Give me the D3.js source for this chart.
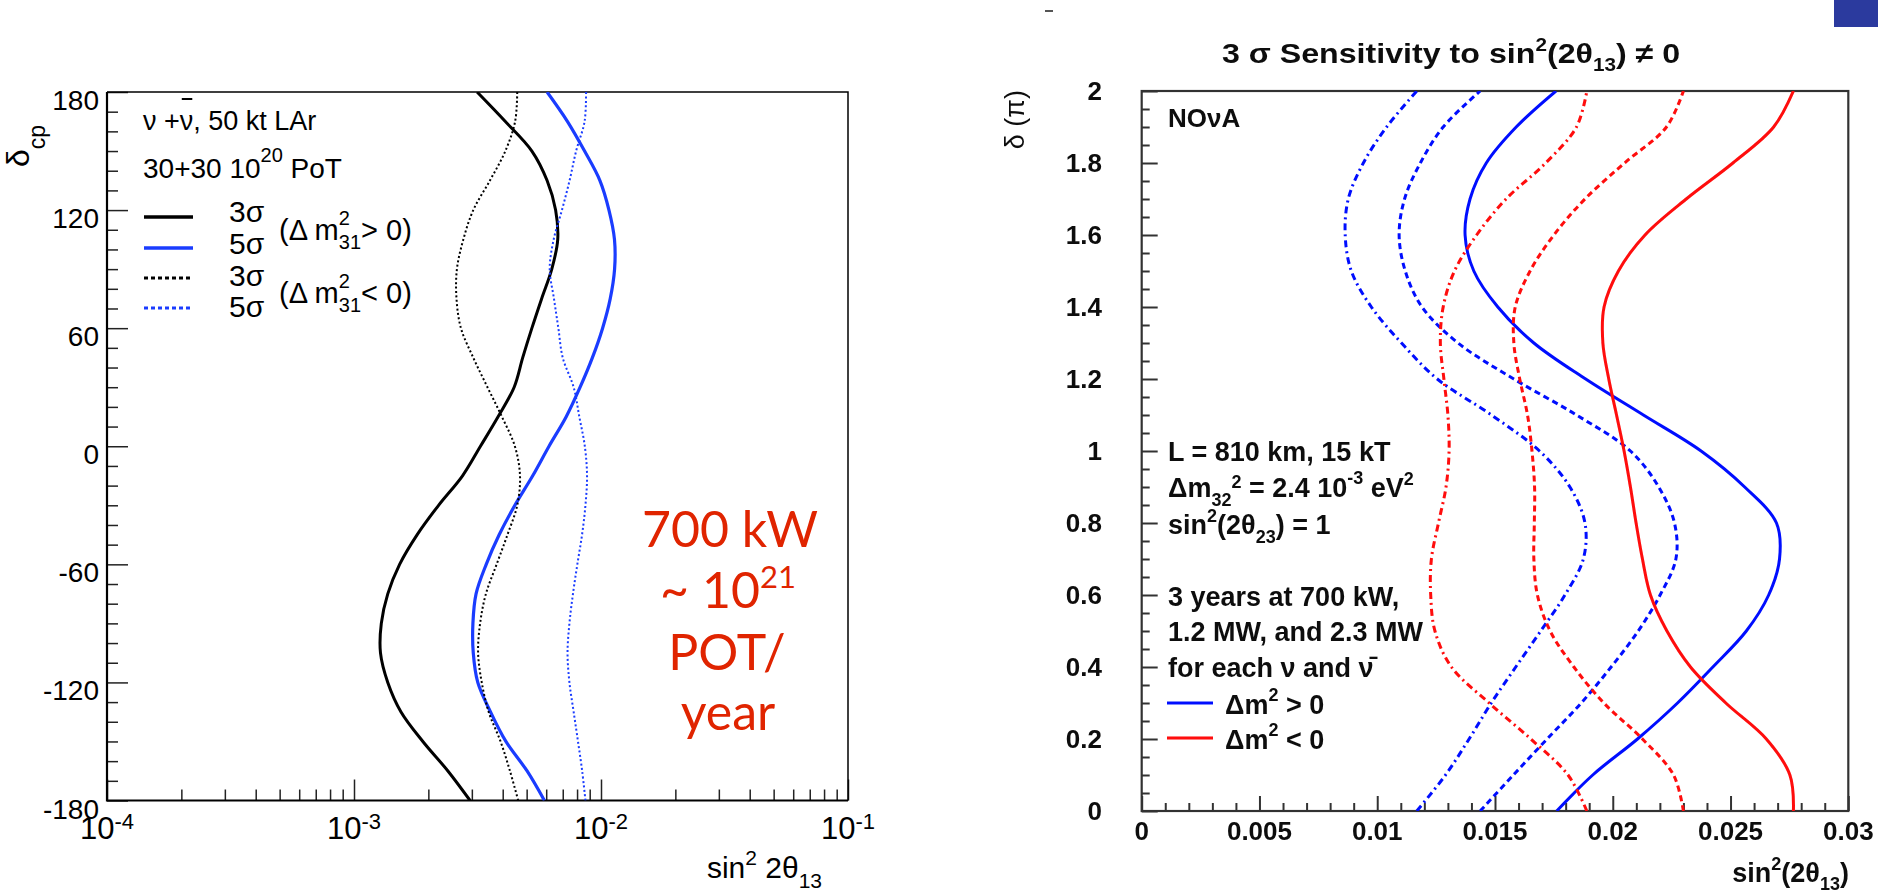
<!DOCTYPE html>
<html>
<head>
<meta charset="utf-8">
<script src="https://cdn.jsdelivr.net/npm/d3@7"></script>
<style>
  html, body { margin: 0; padding: 0; background: #fff; }
  svg { display: block; }
</style>
</head>
<body>
<svg id="fig" width="1878" height="892"></svg>
<script>
// ---------- Left panel: LAr sensitivity vs delta_CP (degrees), log x ----------
const leftDelta = [-180,-165,-150,-135,-120,-105,-90,-75,-60,-45,-30,-15,0,15,30,45,60,75,90,105,120,135,150,165,180];
// sin^2 2theta13 in units of 1e-3
const lar3SigmaNH = [2.95,2.40,1.90,1.55,1.37,1.28,1.29,1.37,1.53,1.80,2.20,2.75,3.25,3.83,4.45,4.82,5.25,5.75,6.32,6.68,6.55,6.05,5.25,4.10,3.15];
const lar5SigmaNH = [5.90,5.02,4.12,3.57,3.17,3.04,3.03,3.12,3.43,3.87,4.48,5.29,6.16,7.23,8.23,9.23,10.15,10.9,11.35,11.34,10.77,9.90,8.58,7.32,6.05];
const lar3SigmaIH = [4.62,4.28,3.92,3.51,3.29,3.18,3.24,3.42,3.78,4.18,4.58,4.70,4.48,3.97,3.47,3.04,2.71,2.60,2.61,2.77,3.04,3.55,4.10,4.49,4.58];
const lar5SigmaIH = [8.65,8.39,8.07,7.75,7.45,7.32,7.45,7.70,8.02,8.38,8.65,8.78,8.60,8.17,7.75,7.00,6.72,6.45,6.20,6.43,6.95,7.46,7.93,8.58,8.70];
const leftYTicks = [-180,-120,-60,0,60,120,180];
const leftXDecades = [-4,-3,-2,-1];

// ---------- Right panel: NOvA 3 sigma sensitivity vs delta (units of pi) ----------
const rightDelta = [0,0.1,0.2,0.3,0.4,0.5,0.6,0.7,0.8,0.9,1.0,1.1,1.2,1.3,1.4,1.5,1.6,1.7,1.8,1.9,2.0];
const novaNH700  = [0.01762,0.01915,0.02105,0.02275,0.02425,0.02567,0.02662,0.02708,0.02695,0.02560,0.02375,0.02130,0.01885,0.01665,0.01512,0.01410,0.01373,0.01394,0.01463,0.01590,0.01759];
const novaNH1200 = [0.01437,0.01578,0.01721,0.01866,0.01993,0.02108,0.02201,0.02268,0.02262,0.02195,0.02075,0.01846,0.01580,0.01343,0.01190,0.01119,0.01093,0.01116,0.01183,0.01280,0.01437];
const novaNH2300 = [0.01168,0.01290,0.01390,0.01484,0.01588,0.01694,0.01797,0.01875,0.01882,0.01818,0.01689,0.01485,0.01255,0.01103,0.00975,0.00890,0.00864,0.00877,0.00941,0.01040,0.01168];
const novaIH700  = [0.02767,0.02752,0.02652,0.02480,0.02330,0.02230,0.02160,0.02126,0.02099,0.02075,0.02048,0.02016,0.01983,0.01958,0.01963,0.02024,0.02137,0.02312,0.02510,0.02683,0.02767];
const novaIH1200 = [0.02300,0.02258,0.02126,0.01962,0.01835,0.01734,0.01680,0.01665,0.01667,0.01668,0.01657,0.01638,0.01605,0.01580,0.01586,0.01649,0.01750,0.01882,0.02050,0.02228,0.02300];
const novaIH2300 = [0.01890,0.01810,0.01652,0.01475,0.01315,0.01245,0.01227,0.01230,0.01260,0.01292,0.01305,0.01300,0.01283,0.01268,0.01280,0.01328,0.01422,0.01547,0.01715,0.01846,0.01890];
const rightXTicks = [0,0.005,0.01,0.015,0.02,0.025,0.03];
const rightXLabels = ["0","0.005","0.01","0.015","0.02","0.025","0.03"];
const rightYTicks = [0,0.2,0.4,0.6,0.8,1,1.2,1.4,1.6,1.8,2];
const rightYLabels = ["0","0.2","0.4","0.6","0.8","1","1.2","1.4","1.6","1.8","2"];

const svg = d3.select("#fig");
svg.append("rect").attr("width", 1878).attr("height", 892).attr("fill", "#fff");
const defs = svg.append("defs");

// text built from pieces (super/subscripts via dy shifts)
function richText(parent, x, y, parts, attrs) {
  const t = parent.append("text").attr("x", x).attr("y", y);
  Object.entries(attrs || {}).forEach(([k, v]) => t.attr(k, v));
  parts.forEach(p => {
    const s = t.append("tspan").text(p.t);
    if (p.dy) s.attr("dy", p.dy);
    if (p.dx) s.attr("dx", p.dx);
    if (p.fs) s.attr("font-size", p.fs);
  });
  return t;
}

// ================= LEFT PANEL =================
const xL = d3.scaleLog().domain([1e-4, 1e-1]).range([107, 848]);
const yL = d3.scaleLinear().domain([-180, 180]).range([800.5, 92]);
const gL = svg.append("g").attr("font-family", "'Liberation Sans', Arial, sans-serif").attr("fill", "#000");

defs.append("clipPath").attr("id", "clipL").append("rect")
  .attr("x", 107).attr("y", 92).attr("width", 741).attr("height", 708.5);

// ticks (inward)
const yMinorL = d3.range(-180, 181, 10).filter(d => d % 60 !== 0);
const xMinorL = [];
[-4, -3, -2].forEach(e => { for (let k = 2; k <= 9; k++) xMinorL.push(k * Math.pow(10, e)); });

function tickAxis(g, axis) {
  g.call(axis).call(a => a.select(".domain").remove())
   .attr("color", "#222")
   .selectAll("line").attr("stroke-width", 1.5);
}
gL.append("g").attr("transform", "translate(107,0)")
  .call(g => tickAxis(g, d3.axisLeft(yL).tickValues(yMinorL).tickSize(-11).tickFormat("")));
gL.append("g").attr("transform", "translate(107,0)")
  .call(g => tickAxis(g, d3.axisLeft(yL).tickValues(leftYTicks).tickSize(-21).tickFormat("")));
gL.append("g").attr("transform", "translate(0,800.5)")
  .call(g => tickAxis(g, d3.axisBottom(xL).tickValues(xMinorL).tickSize(-11).tickFormat("")));
gL.append("g").attr("transform", "translate(0,800.5)")
  .call(g => tickAxis(g, d3.axisBottom(xL).tickValues(leftXDecades.map(e => Math.pow(10, e))).tickSize(-21).tickFormat("")));

// frame
gL.append("path").attr("fill", "none").attr("stroke", "#000").attr("stroke-width", 1.5)
  .attr("d", "M107,92H848V800.5");
gL.append("path").attr("fill", "none").attr("stroke", "#000").attr("stroke-width", 2.2)
  .attr("d", "M107,92V800.5H848");

// tick labels
gL.selectAll("text.ylab").data(leftYTicks).join("text").attr("class", "ylab")
  .attr("x", 99).attr("y", d => yL(d) + 18).attr("text-anchor", "end")
  .attr("font-size", 28).text(d => d);
leftXDecades.forEach(e => {
  richText(gL, xL(Math.pow(10, e)), 839,
    [{t: "10"}, {t: String(e), dy: -10, fs: 22}],
    {"text-anchor": "middle", "font-size": 31});
});

// axis titles
richText(gL, 822, 878, [{t: "sin"}, {t: "2", dy: -13, fs: 21}, {t: " 2θ", dy: 13, fs: 30}, {t: "13", dy: 10, fs: 21}],
  {"text-anchor": "end", "font-size": 30});
richText(gL, 0, 0, [{t: "δ", fs: 32}, {t: "cp", dy: 16, fs: 23}],
  {"transform": "translate(29,167) rotate(-90)"});

// curves
const lineL = d3.line().x(d => xL(d[1])).y(d => yL(d[0])).curve(d3.curveCatmullRom.alpha(0.5));
const pairsL = arr => leftDelta.map((d, i) => [d, arr[i] * 1e-3]);
const blueL = "#1a3cff";
const curvesL = [
  {data: lar3SigmaNH, color: "#000", w: 3, dash: null},
  {data: lar5SigmaNH, color: blueL, w: 3.2, dash: null},
  {data: lar3SigmaIH, color: "#000", w: 2, dash: "2,2.4"},
  {data: lar5SigmaIH, color: blueL, w: 2, dash: "2,2.4"}
];
const curveG = gL.append("g").attr("clip-path", "url(#clipL)");
curvesL.forEach(c => {
  curveG.append("path").attr("d", lineL(pairsL(c.data))).attr("fill", "none")
    .attr("stroke", c.color).attr("stroke-width", c.w)
    .attr("stroke-dasharray", c.dash);
});

// legend block
const lt1 = richText(gL, 143, 130, [{t: "ν +"}, {t: "ν"}, {t: ", 50 kt LAr"}], {"font-size": 27});
{
  const ext = lt1.node().getExtentOfChar(3);
  gL.append("line").attr("x1", ext.x + 2).attr("x2", ext.x + ext.width - 1)
    .attr("y1", 99).attr("y2", 99).attr("stroke", "#000").attr("stroke-width", 2);
}
richText(gL, 143, 178, [{t: "30+30 10"}, {t: "20", dy: -16, fs: 20}, {t: " PoT", dy: 16, fs: 28}], {"font-size": 28});

const legL = [
  {y: 217, color: "#000", dash: null, label: "3σ", by: 222},
  {y: 248, color: blueL, dash: null, label: "5σ", by: 254},
  {y: 278, color: "#000", dash: "4,3", label: "3σ", by: 286},
  {y: 308, color: blueL, dash: "4,3", label: "5σ", by: 317}
];
legL.forEach(l => {
  gL.append("line").attr("x1", 144).attr("x2", 193).attr("y1", l.y).attr("y2", l.y)
    .attr("stroke", l.color).attr("stroke-width", l.dash ? 3 : 3.5).attr("stroke-dasharray", l.dash);
  gL.append("text").attr("x", 229).attr("y", l.by).attr("font-size", 30).text(l.label);
});
[{b: 240, sign: "> 0)"}, {b: 303, sign: "< 0)"}].forEach(p => {
  richText(gL, 279, p.b, [
    {t: "(Δ m"},
    {t: "2", dy: -15, fs: 20},
    {t: "31", dx: -11, dy: 24, fs: 20},
    {t: p.sign, dy: -9, fs: 29}
  ], {"font-size": 29});
});

// beam power annotation
const red = "#e02400";
const ann = gL.append("g").attr("font-family", "Lato, 'Open Sans', sans-serif").attr("fill", red)
  .attr("text-anchor", "middle").attr("font-size", 50);
ann.append("text").attr("x", 730).attr("y", 547).text("700 kW");
richText(ann, 728, 608, [{t: "~ 10"}, {t: "21", dy: -20, fs: 31}], {});
ann.append("text").attr("x", 727).attr("y", 670).text("POT/");
ann.append("text").attr("x", 728).attr("y", 730).text("year");

// ================= RIGHT PANEL =================
const xR = d3.scaleLinear().domain([0, 0.03]).range([1141.7, 1848.3]);
const yR = d3.scaleLinear().domain([0, 2]).range([811, 91]);

const soft = defs.append("filter").attr("id", "soft").attr("x", "-2%").attr("y", "-2%").attr("width", "104%").attr("height", "104%");
soft.append("feGaussianBlur").attr("stdDeviation", 0.75);

const gR = svg.append("g").attr("font-family", "'Liberation Sans', Arial, sans-serif")
  .attr("font-weight", "bold").attr("fill", "#111").attr("filter", "url(#soft)");

defs.append("clipPath").attr("id", "clipR").append("rect")
  .attr("x", 1141.7).attr("y", 91).attr("width", 706.6).attr("height", 720);

const xMinorR = d3.range(0, 31).filter(i => i % 5 !== 0).map(i => i * 0.001);
const yMinorR = d3.range(0, 41).filter(i => i % 4 !== 0).map(i => i * 0.05);
function tickAxisR(g, axis) {
  g.call(axis).call(a => a.select(".domain").remove())
   .attr("color", "#333").selectAll("line").attr("stroke-width", 2);
}
gR.append("g").attr("transform", "translate(1141.7,0)")
  .call(g => tickAxisR(g, d3.axisLeft(yR).tickValues(yMinorR).tickSize(-8).tickFormat("")));
gR.append("g").attr("transform", "translate(1141.7,0)")
  .call(g => tickAxisR(g, d3.axisLeft(yR).tickValues(rightYTicks).tickSize(-16).tickFormat("")));
gR.append("g").attr("transform", "translate(0,811)")
  .call(g => tickAxisR(g, d3.axisBottom(xR).tickValues(xMinorR).tickSize(-8).tickFormat("")));
gR.append("g").attr("transform", "translate(0,811)")
  .call(g => tickAxisR(g, d3.axisBottom(xR).tickValues(rightXTicks).tickSize(-15).tickFormat("")));

gR.append("rect").attr("x", 1141.7).attr("y", 91).attr("width", 706.6).attr("height", 720)
  .attr("fill", "none").attr("stroke", "#333").attr("stroke-width", 2.2);

gR.selectAll("text.ylab").data(rightYTicks).join("text").attr("class", "ylab")
  .attr("x", 1102).attr("y", d => yR(d) + 9).attr("text-anchor", "end").attr("font-size", 26)
  .text((d, i) => rightYLabels[i]);
gR.selectAll("text.xlab").data(rightXTicks).join("text").attr("class", "xlab")
  .attr("x", d => xR(d)).attr("y", 840).attr("text-anchor", "middle").attr("font-size", 26)
  .text((d, i) => rightXLabels[i]);

// titles
richText(gR, 1849, 882, [{t: "sin"}, {t: "2", dy: -12, fs: 18}, {t: "(2θ", dy: 12, fs: 27}, {t: "13", dy: 8, fs: 18}, {t: ")", dy: -8, fs: 27}],
  {"text-anchor": "end", "font-size": 27});
gR.append("text").attr("transform", "translate(1024,90) rotate(-90)").attr("text-anchor", "end")
  .attr("font-size", 27).attr("font-weight", "normal").text("δ (π)");
const titleG = gR.append("g").attr("transform", "translate(1451,63) scale(1.15,1)");
richText(titleG, 0, 0, [{t: "3 σ Sensitivity to sin"}, {t: "2", dy: -12, fs: 18}, {t: "(2θ", dy: 12, fs: 28}, {t: "13", dy: 8, fs: 18}, {t: ") ≠ 0", dy: -8, fs: 28}],
  {"text-anchor": "middle", "font-size": 28});

// curves
const lineR = d3.line().x(d => xR(d[1])).y(d => yR(d[0])).curve(d3.curveCatmullRom.alpha(0.5));
const pairsR = arr => rightDelta.map((d, i) => [d, arr[i]]);
const blueR = "#0010ff", redR = "#ff0a0a";
const dashed = "6,4", dashDot = "7,4,2,4";
const curvesR = [
  {data: novaNH700, color: blueR, dash: null},
  {data: novaNH1200, color: blueR, dash: dashed},
  {data: novaNH2300, color: blueR, dash: dashDot},
  {data: novaIH700, color: redR, dash: null},
  {data: novaIH1200, color: redR, dash: dashed},
  {data: novaIH2300, color: redR, dash: dashDot}
];
const curveR = gR.append("g").attr("clip-path", "url(#clipR)");
curvesR.forEach(c => {
  curveR.append("path").attr("d", lineR(pairsR(c.data))).attr("fill", "none")
    .attr("stroke", c.color).attr("stroke-width", 3).attr("stroke-dasharray", c.dash);
});

// text block
const infoFs = 27;
gR.append("text").attr("x", 1168).attr("y", 127).attr("font-size", 26).text("NOνA");
gR.append("text").attr("x", 1168).attr("y", 461).attr("font-size", infoFs).text("L = 810 km, 15 kT");
richText(gR, 1168, 497, [{t: "Δm"}, {t: "32", dy: 9, fs: 18}, {t: "2", dy: -18, fs: 18}, {t: " = 2.4 10", dy: 9, fs: infoFs}, {t: "-3", dy: -13, fs: 18}, {t: " eV", dy: 13, fs: infoFs}, {t: "2", dy: -12, fs: 18}],
  {"font-size": infoFs});
richText(gR, 1168, 534, [{t: "sin"}, {t: "2", dy: -12, fs: 18}, {t: "(2θ", dy: 12, fs: infoFs}, {t: "23", dy: 9, fs: 18}, {t: ") = 1", dy: -9, fs: infoFs}],
  {"font-size": infoFs});
gR.append("text").attr("x", 1168).attr("y", 606).attr("font-size", infoFs).text("3 years at 700 kW,");
gR.append("text").attr("x", 1168).attr("y", 641).attr("font-size", infoFs).text("1.2 MW, and 2.3 MW");
gR.append("text").attr("x", 1168).attr("y", 677).attr("font-size", infoFs).text("for each ν and ν\u0304");

[{y: 703, by: 714, color: blueR, sign: " > 0"}, {y: 738, by: 749, color: redR, sign: " < 0"}].forEach(l => {
  gR.append("line").attr("x1", 1167).attr("x2", 1213).attr("y1", l.y).attr("y2", l.y)
    .attr("stroke", l.color).attr("stroke-width", 3);
  richText(gR, 1225, l.by, [{t: "Δm"}, {t: "2", dy: -13, fs: 18}, {t: l.sign, dy: 13, fs: infoFs}], {"font-size": infoFs});
});

// page furniture at the top edge
svg.append("line").attr("x1", 1045).attr("x2", 1053).attr("y1", 11).attr("y2", 11)
  .attr("stroke", "#555").attr("stroke-width", 2);
svg.append("rect").attr("x", 1834).attr("y", 0).attr("width", 44).attr("height", 27).attr("fill", "#2b3a9e");
</script>
</body>
</html>
